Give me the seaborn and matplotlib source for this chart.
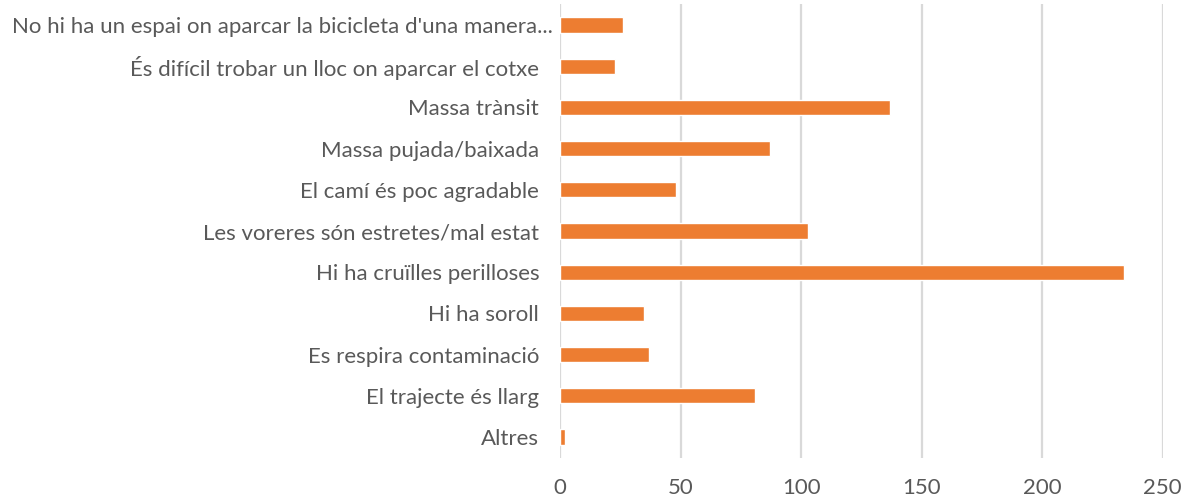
import pandas as pd
import matplotlib.pyplot as plt
import matplotlib.transforms as mtransforms
import seaborn as sns

# --- DATA ---
categories = [
    "No hi ha un espai on aparcar la bicicleta d'una manera...",
    "És difícil trobar un lloc on aparcar el cotxe",
    "Massa trànsit",
    "Massa pujada/baixada",
    "El camí és poc agradable",
    "Les voreres són estretes/mal estat",
    "Hi ha cruïlles perilloses",
    "Hi ha soroll",
    "Es respira contaminació",
    "El trajecte és llarg",
    "Altres",
]
counts = [26, 23, 137, 87, 48, 103, 234, 35, 37, 81, 2]
x_ticks = [0, 50, 100, 150, 200, 250]

df = pd.DataFrame({"categoria": categories, "n": counts})

# --- STYLE ---
sns.set_style("white")
plt.rcParams["font.family"] = ["Lato", "DejaVu Sans"]
TEXT = "#595959"
ORANGE = "#ED7D31"
GRID = "#D9D9D9"

fig = plt.figure(figsize=(11.84, 4.99), dpi=100)
ax = fig.add_axes([0.473, 0.083, 0.509, 0.908])

sns.barplot(data=df, x="n", y="categoria", orient="h", color=ORANGE,
            width=0.37, saturation=1, ax=ax, zorder=3)

ax.set_xlim(0, 250)
ax.set_ylim(10.5, -0.5)
ax.set_xticks(x_ticks)
ax.set_xticklabels([str(t) for t in x_ticks])
ax.xaxis.grid(True, color=GRID, linewidth=1.6, zorder=0)
ax.set_axisbelow(True)
ax.set_xlabel("")
ax.set_ylabel("")
for s in ax.spines.values():
    s.set_visible(False)
ax.tick_params(axis="both", length=0, labelsize=16, labelcolor=TEXT)
ax.tick_params(axis="y", pad=15)
ax.tick_params(axis="x", pad=15)

# the truncated first label sits a bit further right, like Excel does it
first = ax.get_yticklabels()[0]
first.set_transform(first.get_transform() +
                    mtransforms.ScaledTranslation(14 / 100, 0, fig.dpi_scale_trans))

fig.savefig("out.png", dpi=100)
